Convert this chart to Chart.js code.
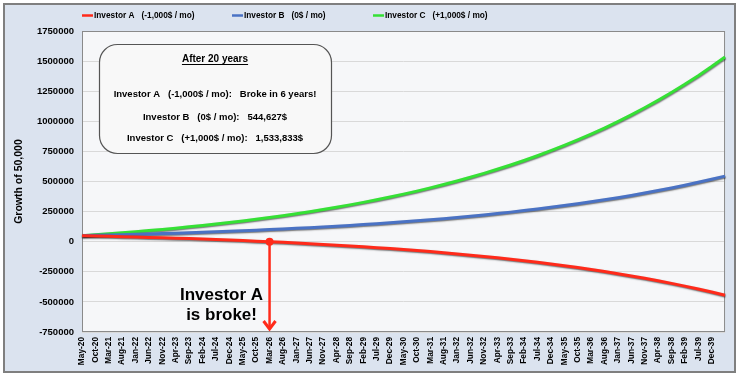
<!DOCTYPE html>
<html><head><meta charset="utf-8">
<script src="https://cdn.jsdelivr.net/npm/chart.js@4/dist/chart.umd.min.js"></script>
<style>html,body{margin:0;padding:0;background:#fff;}canvas{display:block;}</style>
</head><body>
<canvas id="c" width="740" height="378"></canvas>
<script>
// ---- data (every 5 months, May-20 .. May-40) ----
const months = ['May-20','Oct-20','Mar-21','Aug-21','Jan-22','Jun-22','Nov-22','Apr-23','Sep-23','Feb-24','Jul-24','Dec-24','May-25','Oct-25','Mar-26','Aug-26','Jan-27','Jun-27','Nov-27','Apr-28','Sep-28','Feb-29','Jul-29','Dec-29','May-30','Oct-30','Mar-31','Aug-31','Jan-32','Jun-32','Nov-32','Apr-33','Sep-33','Feb-34','Jul-34','Dec-34','May-35','Oct-35','Mar-36','Aug-36','Jan-37','Jun-37','Nov-37','Apr-38','Sep-38','Feb-39','Jul-39','Dec-39','May-40'];
const investorA = [50000,47449,44769,41952,38990,35878,32608,29170,25557,21759,17768,13574,9165,4532,-338,-5456,-10836,-16489,-22432,-28677,-35241,-42139,-49390,-57010,-65019,-73437,-82284,-91582,-101355,-111626,-122421,-133767,-145691,-158224,-171396,-185240,-199790,-215082,-231155,-248047,-265801,-284460,-304072,-324684,-346347,-369115,-393044,-418194,-444627];
const investorB = [50000,52551,55231,58048,61010,64122,67392,70830,74443,78241,82232,86426,90835,95468,100338,105456,110836,116489,122432,128677,135241,142139,149390,157010,165019,173437,182284,191582,201355,211626,222421,233767,245691,258224,271396,285240,299790,315082,331155,348047,365801,384460,404072,424684,446347,469115,493044,518194,544627];
const investorC = [50000,57652,65693,74145,83029,92365,102177,112490,123329,134722,146695,159278,172505,186405,201014,216369,232508,249468,267295,286031,305722,326418,348170,371031,395058,420311,446852,474746,504065,534878,567264,601301,637074,674672,714189,755721,799370,845247,893465,944142,997403,1053381,1112216,1174052,1239040,1307345,1379132,1454583,1533833];
const seriesNames = ['Investor A   (-1,000$ / mo)','Investor B   (0$ / mo)','Investor C   (+1,000$ / mo)'];
const seriesColors = ['#ff2a1a','#4a72c4','#35e135'];
const summaryTitle = 'After 20 years';
const summaryLines = ['Investor A   (-1,000$ / mo):   Broke in 6 years!','Investor B   (0$ / mo):   544,627$','Investor C   (+1,000$ / mo):   1,533,833$'];
const brokeLabel = ['Investor A','is broke!'];
const brokeMonth = 'Mar-26';
const yTitle = 'Growth of 50,000';

const FONT = "'Liberation Sans', Arial, sans-serif";
Chart.defaults.font.family = FONT;
Chart.defaults.color = '#000';

const frame = {
  id: 'frame',
  beforeDraw(chart) {
    const {ctx, chartArea: a} = chart;
    ctx.save();
    ctx.fillStyle = '#ffffff';
    ctx.fillRect(0, 0, chart.width, chart.height);
    ctx.fillStyle = '#dbe3ef';
    ctx.fillRect(4, 4, 731, 368);
    ctx.strokeStyle = '#7f7f7f';
    ctx.lineWidth = 2;
    ctx.strokeRect(4, 4, 731, 368);
    ctx.fillStyle = '#f6f7f9';
    ctx.fillRect(a.left, a.top, a.right - a.left, a.bottom - a.top);
    ctx.restore();
  },
  beforeDatasetsDraw(chart) {
    const {ctx, chartArea: a} = chart;
    ctx.save();
    ctx.strokeStyle = '#8a8a8a';
    ctx.lineWidth = 1;
    ctx.strokeRect(a.left + 0.5, a.top + 0.5, a.right - a.left - 1, a.bottom - a.top - 1);
    ctx.restore();
  },
  afterDraw(chart) {
    const {ctx} = chart;
    ctx.save();
    // legend
    const xs = [82, 232, 373];
    chart.data.datasets.forEach((ds, i) => {
      ctx.strokeStyle = ds.borderColor;
      ctx.lineWidth = 2.5;
      ctx.beginPath(); ctx.moveTo(xs[i], 15.5); ctx.lineTo(xs[i] + 11, 15.5); ctx.stroke();
      ctx.fillStyle = '#000';
      ctx.font = 'bold 8.3px ' + FONT;
      ctx.textBaseline = 'middle';
      ctx.textAlign = 'left';
      ctx.fillText(ds.label, xs[i] + 12, 15.5);
    });
    // summary box
    const a = chart.chartArea;
    const bx = a.left + 17, by = a.top + 13, bw = 232, bh = 109, r = 18;
    ctx.beginPath();
    ctx.roundRect(bx + 0.5, by + 0.5, bw, bh, r);
    ctx.fillStyle = '#f8f8f8';
    ctx.fill();
    ctx.strokeStyle = '#555';
    ctx.lineWidth = 1.2;
    ctx.stroke();
    const cx = bx + bw / 2;
    ctx.fillStyle = '#000';
    ctx.textAlign = 'center';
    ctx.textBaseline = 'middle';
    ctx.font = 'bold 10px ' + FONT;
    ctx.fillText(summaryTitle, cx, by + 15);
    const tw = ctx.measureText(summaryTitle).width;
    ctx.fillRect(cx - tw / 2, by + 20, tw, 1);
    ctx.font = 'bold 9.5px ' + FONT;
    const ly = [50, 73, 94];
    summaryLines.forEach((t, i) => ctx.fillText(t, cx, by + ly[i]));
    // broke arrow
    const xs2 = chart.scales.x, ys = chart.scales.y;
    const px = xs2.getPixelForValue(months.indexOf(brokeMonth));
    const py = ys.getPixelForValue(0);
    const red = '#ff2a1a';
    ctx.strokeStyle = red; ctx.fillStyle = red;
    ctx.lineWidth = 2.5;
    ctx.beginPath(); ctx.moveTo(px, py); ctx.lineTo(px, a.bottom - 3); ctx.stroke();
    ctx.lineWidth = 3;
    ctx.lineJoin = 'miter';
    ctx.beginPath(); ctx.moveTo(px - 6, a.bottom - 11); ctx.lineTo(px, a.bottom - 3); ctx.lineTo(px + 6, a.bottom - 11); ctx.stroke();
    ctx.beginPath(); ctx.arc(px, py, 4, 0, Math.PI * 2); ctx.fill();
    ctx.fillStyle = '#000';
    ctx.font = 'bold 17px ' + FONT;
    ctx.fillText(brokeLabel[0], px - 48, 295);
    ctx.fillText(brokeLabel[1], px - 48, 315);
    ctx.restore();
  }
};

const shadow = {
  id: 'shadow',
  beforeDatasetDraw(chart) {
    const ctx = chart.ctx;
    ctx.save();
    ctx.shadowColor = 'rgba(0,0,0,0.55)';
    ctx.shadowOffsetX = 0.5;
    ctx.shadowOffsetY = 1;
    ctx.shadowBlur = 1.5;
  },
  afterDatasetDraw(chart) { chart.ctx.restore(); }
};

new Chart(document.getElementById('c'), {
  type: 'line',
  data: {
    labels: months,
    datasets: [
      {label: seriesNames[0], data: investorA, borderColor: seriesColors[0]},
      {label: seriesNames[1], data: investorB, borderColor: seriesColors[1]},
      {label: seriesNames[2], data: investorC, borderColor: seriesColors[2]}
    ]
  },
  options: {
    responsive: false,
    animation: false,
    devicePixelRatio: 1,
    layout: {padding: {left: 5, right: 12, top: 31, bottom: 6}},
    elements: {point: {radius: 0}, line: {borderWidth: 3, tension: 0}},
    plugins: {legend: {display: false}, tooltip: {enabled: false}},
    scales: {
      x: {
        type: 'category', offset: false,
        grid: {display: false, drawTicks: false},
        border: {display: false},
        ticks: {
          autoSkip: false, minRotation: 90, maxRotation: 90, padding: 5,
          font: {size: 8.3, weight: 'bold'}, color: '#000',
          callback: (v, i) => (i < months.length - 1 ? months[i] : '')
        },
        afterFit: s => { s.height = 40; }
      },
      y: {
        min: -750000, max: 1750000,
        grid: {color: '#d9d9d9', drawTicks: false},
        border: {display: false},
        ticks: {stepSize: 250000, padding: 8, font: {size: 9.5, weight: 'bold'}, color: '#000', callback: v => String(v)},
        title: {display: true, text: yTitle, font: {size: 10.5, weight: 'bold'}, color: '#000', padding: {top: 8, bottom: 0}},
        afterFit: s => { s.width = 77; }
      }
    }
  },
  plugins: [frame, shadow]
});
</script>
</body></html>
